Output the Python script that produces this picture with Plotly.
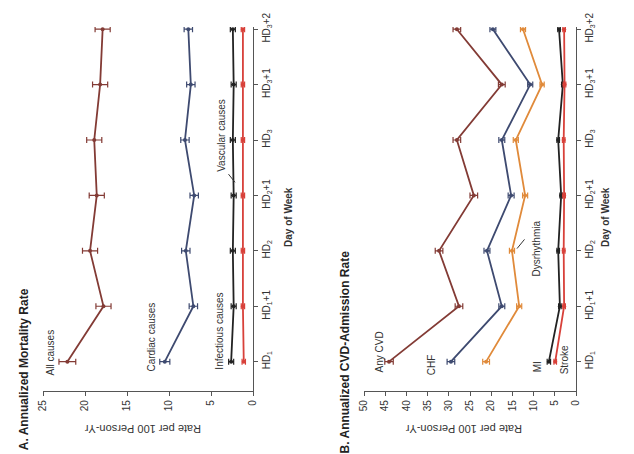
import plotly.graph_objects as go
from plotly.subplots import make_subplots

days = ["HD<sub>1</sub>", "HD<sub>1</sub>+1", "HD<sub>2</sub>", "HD<sub>2</sub>+1",
        "HD<sub>3</sub>", "HD<sub>3</sub>+1", "HD<sub>3</sub>+2"]

# Panel A: annualized mortality rate (per 100 person-yr)
all_causes = [22.1, 17.8, 19.4, 18.6, 18.9, 18.2, 17.9]
all_causes_err = [1.0, 0.9, 0.9, 0.9, 0.9, 0.9, 0.9]
cardiac = [10.5, 7.1, 8.0, 7.0, 8.1, 7.4, 7.7]
cardiac_err = [0.6, 0.5, 0.5, 0.5, 0.5, 0.5, 0.5]
infectious = [2.6, 2.3, 2.4, 2.3, 2.4, 2.3, 2.4]
infectious_err = [0.3, 0.3, 0.3, 0.3, 0.3, 0.3, 0.3]
vascular = [1.1, 1.2, 1.2, 1.2, 1.2, 1.2, 1.2]
vascular_err = [0.2, 0.2, 0.2, 0.2, 0.2, 0.2, 0.2]

# Panel B: annualized CVD-admission rate (per 100 person-yr)
any_cvd = [44.1, 27.6, 32.3, 24.1, 28.1, 17.5, 28.1]
any_cvd_err = [1.0, 0.9, 0.9, 0.9, 0.9, 0.8, 0.9]
chf = [29.5, 17.5, 21.0, 15.3, 17.5, 10.8, 19.6]
chf_err = [0.9, 0.7, 0.7, 0.7, 0.7, 0.6, 0.7]
dysrhythmia = [21.2, 13.4, 15.1, 12.0, 14.2, 8.0, 12.5]
dysrhythmia_err = [0.8, 0.6, 0.6, 0.6, 0.6, 0.5, 0.6]
mi = [6.4, 3.8, 4.2, 3.5, 4.2, 3.1, 4.0]
mi_err = [0.4, 0.3, 0.3, 0.3, 0.3, 0.3, 0.3]
stroke = [4.9, 2.8, 2.9, 2.8, 2.9, 2.7, 2.8]
stroke_err = [0.3, 0.3, 0.3, 0.3, 0.3, 0.3, 0.3]

a_ticks = [0, 5, 10, 15, 20, 25]
b_ticks = [0, 5, 10, 15, 20, 25, 30, 35, 40, 45, 50]

BROWN = "#833b35"
NAVY = "#3e4a70"
ORANGE = "#e08a3a"
BLACK = "#222222"
RED = "#d8413a"
FONT = "Liberation Sans"

W, H = 634, 454
L, R, T, B = 43, 58, 23, 63

fig = make_subplots(rows=1, cols=2, horizontal_spacing=0.21)


def add(series, err, color, col, width=1.8):
    fig.add_trace(go.Scatter(
        x=series, y=days, mode="lines+markers",
        line=dict(color=color, width=width),
        marker=dict(color=color, size=4),
        error_x=dict(type="data", array=err, color=color, thickness=1.2, width=3),
        showlegend=False, hoverinfo="x+y"), row=1, col=col)


add(all_causes, all_causes_err, BROWN, 1)
add(cardiac, cardiac_err, NAVY, 1)
add(infectious, infectious_err, BLACK, 1)
add(vascular, vascular_err, RED, 1)

add(any_cvd, any_cvd_err, BROWN, 2)
add(chf, chf_err, NAVY, 2)
add(dysrhythmia, dysrhythmia_err, ORANGE, 2)
add(mi, mi_err, BLACK, 2)
add(stroke, stroke_err, RED, 2)

axfont = dict(family=FONT, size=10, color="#333")
common_x = dict(showgrid=False, zeroline=False, showline=True, linecolor="#555",
                linewidth=1.2, ticks="outside", ticklen=4, tickcolor="#555",
                tickangle=-90, tickfont=axfont)
fig.update_xaxes(range=[25, 0], tickvals=a_ticks, row=1, col=1, **common_x)
fig.update_xaxes(range=[50, 0], tickvals=b_ticks, row=1, col=2, **common_x)
fig.update_layout(xaxis=dict(domain=[0, 210 / 533]),
                  xaxis2=dict(domain=[321 / 533, 1]))

common_y = dict(showgrid=False, zeroline=False, showline=True, linecolor="#555",
                linewidth=1.2, ticks="outside", ticklen=4, tickcolor="#555",
                side="right", tickangle=-90, tickfont=axfont,
                categoryorder="array", categoryarray=days, range=[-0.53, 6.04])
fig.update_yaxes(row=1, col=1, anchor="x", **common_y)
fig.update_yaxes(row=1, col=2, anchor="x2", **common_y)

pw, ph = W - L - R, H - T - B


def px(x):
    return (x - L) / pw


def py(y):
    return (H - B - y) / ph


def label(text, x, y, angle=-90, size=9, bold=False, color="#333"):
    if bold:
        text = "<b>" + text + "</b>"
    fig.add_annotation(text=text, x=px(x), y=py(y), xref="paper", yref="paper",
                       showarrow=False, textangle=angle,
                       font=dict(family=FONT, size=size, color=color),
                       xanchor="center", yanchor="middle")


# panel titles
label("A. Annualized Mortality Rate", 24, 369, size=12, bold=True, color="#222")
label("B. Annualized CVD-Admission Rate", 345, 352, size=12, bold=True, color="#222")

# value-axis titles (upside down)
label("Rate per 100 Person-Yr", 143, 430, angle=180, size=11)
label("Rate per 100 Person-Yr", 464, 430, angle=180, size=11)

# category-axis titles
label("<b>Day of Week</b>", 289, 215, size=10)
label("<b>Day of Week</b>", 606, 215, size=10)

# series labels
label("All causes", 50, 352, size=10)
label("Cardiac causes", 152, 337, size=10)
label("Infectious causes", 220, 331, size=10)
label("Vascular causes", 222, 133, size=10)
label("Any CVD", 379, 352, size=10)
label("CHF", 431, 365, size=10)
label("Dysrhythmia", 537, 247, size=10)
label("MI", 537, 367, size=10)
label("Stroke", 564, 360, size=10)

# pointer lines
for tipx, tipy, sx, sy in [(235, 180, 227, 170), (517, 247, 526, 236)]:
    fig.add_annotation(text=" ", x=px(tipx), y=py(tipy), xref="paper", yref="paper",
                       showarrow=True, arrowhead=0, arrowwidth=1, arrowcolor="#333",
                       ax=sx - tipx, ay=sy - tipy, standoff=0, startstandoff=0,
                       font=dict(size=1))

fig.update_layout(width=W, height=H, margin=dict(l=L, r=R, t=T, b=B),
                  paper_bgcolor="white", plot_bgcolor="white",
                  font=dict(family=FONT, size=9, color="#333"))

fig.write_html("out.html")
